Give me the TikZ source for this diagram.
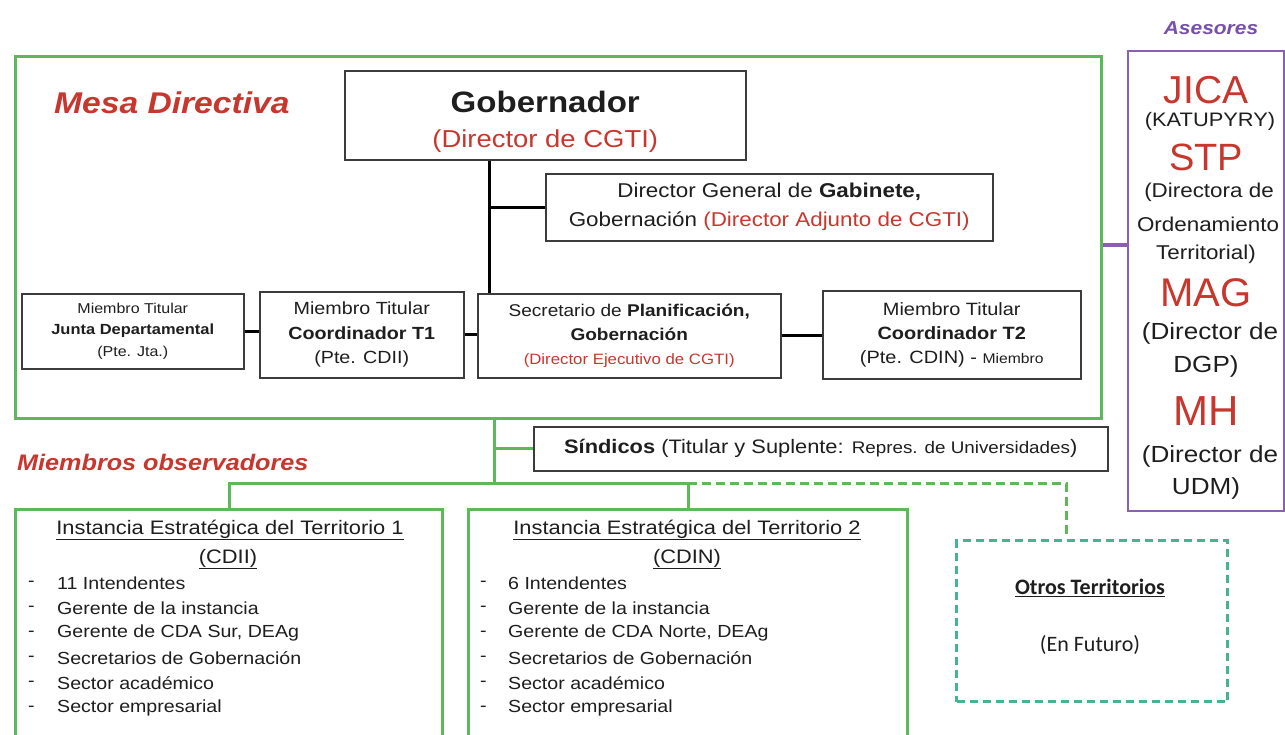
\documentclass[tikz,border=0pt]{standalone}
\usepackage{fontspec}
\setmainfont{Liberation Sans}[FakeStretch=1.12]
\newfontfamily\plainsf{Liberation Sans}
\newfontfamily\calib{Carlito}
\definecolor{grn}{RGB}{92,184,88}
\definecolor{redt}{RGB}{200,55,45}
\definecolor{purp}{RGB}{140,95,180}
\definecolor{purpt}{RGB}{120,80,170}
\definecolor{tealb}{RGB}{70,180,145}
\definecolor{bgray}{RGB}{60,60,60}
\definecolor{txt}{RGB}{30,30,30}
\newcommand{\fs}[2]{\fontsize{#1}{#2}\selectfont}
\begin{document}
\begin{tikzpicture}[x=1pt,y=-1pt,
  bx/.style={draw=bgray, line width=1.5pt, fill=white, inner sep=0pt, align=center, text=txt, anchor=north west},
  gbox/.style={draw=grn, line width=3pt, inner sep=0pt, anchor=north west},
  conn/.style={draw=black, line width=3pt},
  gline/.style={draw=grn, line width=3pt},
  gdash/.style={draw=grn, line width=3pt, dash pattern=on 9pt off 5pt},
  ttl/.style={text=redt, font=\fs{30}{32}\bfseries\itshape, anchor=west, inner sep=0pt},
  adv/.style={inner sep=0pt, align=center},
  itm/.style={inner sep=0pt, anchor=west, text=txt, font=\fs{17.5}{20}}
]
\path[use as bounding box, clip] (0,0) rectangle (1285,734);
\fill[white] (0,0) rectangle (1285,734);

% Mesa directiva frame
\node[gbox, minimum width=1086, minimum height=362] (mesa) at (14,55) {};
\node[ttl] (mesat) at (54,103) {Mesa Directiva};

% Boxes
\node[bx, minimum width=401, minimum height=89] (gob) at (344,70) {};
\node[adv, text=txt, font=\fs{24.5}{35}] (gobt) at ([yshift=-7pt]gob.center)
  {{\fs{29.5}{35}\bfseries Gobernador}\\{\color{redt}(Director de CGTI)}};
\node[bx, minimum width=447, minimum height=67, font=\fs{20}{29}] (dg) at (545,173)
  {Director General de \textbf{Gabinete,}\\Gobernación {\color{redt}(Director Adjunto de CGTI)}};
\node[bx, minimum width=222, minimum height=75, font=\fs{14.3}{21.5}] (junta) at (21,293)
  {Miembro Titular\\{\fs{14.7}{21.5}\bfseries Junta Departamental}\\(Pte. Jta.)};
\node[bx, minimum width=204, minimum height=86, font=\fs{17.6}{24.5}] (t1) at (259,291)
  {Miembro Titular\\\textbf{Coordinador T1}\\(Pte. CDII)};
\node[bx, minimum width=303, minimum height=84, font=\fs{17}{24}] (sec) at (477,293)
  {Secretario de \textbf{Planificación,}\\\textbf{Gobernación}\\{\fs{15}{24}\color{redt}(Director Ejecutivo de CGTI)}};
\node[bx, minimum width=258, minimum height=88, font=\fs{17.8}{24}] (t2) at (822,290)
  {Miembro Titular\\\textbf{Coordinador T2}\\(Pte. CDIN) - {\fs{14}{24}Miembro}};

% Connectors in Mesa
\coordinate (sp) at (489,0);
\draw[conn] (gob.south -| sp) -- (sec.north -| sp);
\draw[conn] (sp |- dg.west) -- (dg.west);
\draw[conn] (junta.east) -- (t1.west |- junta.east);
\draw[conn] (t1.east) -- (sec.west |- t1.east);
\draw[conn] (sec.east) -- (t2.west |- sec.east);

% Asesores
\node[adv, text=purpt, font=\fs{18.7}{20}\bfseries\itshape] (asest) at (1211,28) {Asesores};
\node[draw=purp, line width=2pt, inner sep=0pt, anchor=north west, minimum width=156, minimum height=460] (ases) at (1127,50) {};
\coordinate (pc) at (0,245);
\draw[draw=purp, line width=4pt] (mesa.east |- pc) -- (ases.west |- pc);
\node[adv, text=redt, font=\plainsf\fs{39}{44}] (jica) at (1206,90) {JICA};
\node[adv, text=txt, font=\fs{19.5}{20}] (katu) at (1210,121) {(KATUPYRY)};
\node[adv, text=redt, font=\plainsf\fs{38}{44}] (stp) at (1206,157) {STP};
\node[adv, text=txt, font=\fs{20}{20}] (stp1) at (1209,192) {(Directora de};
\node[adv, text=txt, font=\fs{20}{20}] (stp2) at (1208,224) {Ordenamiento};
\node[adv, text=txt, font=\fs{20}{20}] (stp3) at (1206,254) {Territorial)};
\node[adv, text=redt, font=\plainsf\fs{40}{44}] (mag) at (1206,293) {MAG};
\node[adv, text=txt, font=\fs{23.3}{26}] (mag1) at (1210,333) {(Director de};
\node[adv, text=txt, font=\fs{23.3}{26}] (mag2) at (1206,366) {DGP)};
\node[adv, text=redt, font=\plainsf\fs{42}{48}] (mh) at (1206,411) {MH};
\node[adv, text=txt, font=\fs{23.3}{26}] (mh1) at (1210,456) {(Director de};
\node[adv, text=txt, font=\fs{23.3}{26}] (mh2) at (1206,488) {UDM)};

% Sindicos
\node[bx, minimum width=574, minimum height=44, font=\fs{19.5}{20}] (sind) at (533,426)
  {\textbf{Síndicos} (Titular y Suplente: {\fs{16.8}{20}Repres. de Universidades})};
\node[ttl, font=\fs{22.5}{26}\bfseries\itshape] (obst) at (17,462) {Miembros observadores};

% Instancias
\node[gbox, minimum width=427, minimum height=260] (inst1) at (14,508) {};
\node[gbox, minimum width=439, minimum height=260] (inst2) at (467,508) {};
\node[draw=tealb, line width=3pt, dash pattern=on 8pt off 5pt, inner sep=0pt, anchor=north west, minimum width=271, minimum height=161] (otros) at (955,539) {};

\coordinate (j) at (494,483);
\coordinate (dx) at (1066,483);
\draw[gline] (mesa.south -| j) -- (j);
\draw[gline] (j |- sind.west) -- (sind.west);
\draw[gline] (inst1.north) -- (inst1.north |- j) -- (inst2.north |- j) -- (inst2.north);
\draw[gdash] (inst2.north |- j) -- (dx) -- (dx |- otros.north);

\node[adv, text=txt, font=\fs{19.5}{20}] (i1t) at (230,530) {\underline{Instancia Estratégica del Territorio 1}};
\node[adv, text=txt, font=\fs{19.5}{20}] (i1s) at (228,559) {\underline{(CDII)}};
\node[adv, text=txt, font=\fs{19.5}{20}] (i2t) at (687,530) {\underline{Instancia Estratégica del Territorio 2}};
\node[adv, text=txt, font=\fs{19.5}{20}] (i2s) at (687,559) {\underline{(CDIN)}};

\foreach \t [count=\i] in {11 Intendentes, Gerente de la instancia, {Gerente de CDA Sur, DEAg}, Secretarios de Gobernación, Sector académico, Sector empresarial} {
  \node[itm] (a\i) at (28,{584+25*(\i-1)}) {-};
  \node[itm] (b\i) at (57,{583+25*(\i-1)}) {\t};
}
\foreach \t [count=\i] in {6 Intendentes, Gerente de la instancia, {Gerente de CDA Norte, DEAg}, Secretarios de Gobernación, Sector académico, Sector empresarial} {
  \node[itm] (c\i) at (480,{584+25*(\i-1)}) {-};
  \node[itm] (d\i) at (508,{583+25*(\i-1)}) {\t};
}

\node[adv, text=txt, font=\calib\fs{22}{24}\bfseries] (ot1) at (1090,588) {\underline{Otros Territorios}};
\node[adv, text=txt, font=\calib\fs{22}{24}] (ot2) at (1090,645) {(En Futuro)};
\end{tikzpicture}
\end{document}
